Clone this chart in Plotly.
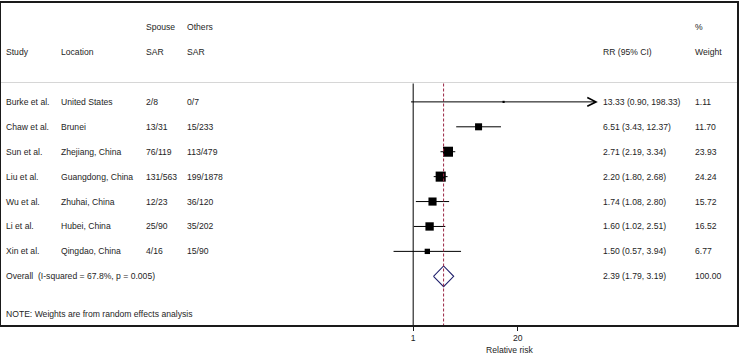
import math
import plotly.graph_objects as go

# ---------------- data ----------------
studies = ["Burke et al.", "Chaw et al.", "Sun et al.", "Liu et al.", "Wu et al.", "Li et al.", "Xin et al."]
locations = ["United States", "Brunei", "Zhejiang, China", "Guangdong, China", "Zhuhai, China", "Hubei, China", "Qingdao, China"]
spouse_sar = ["2/8", "13/31", "76/119", "131/563", "12/23", "25/90", "4/16"]
others_sar = ["0/7", "15/233", "113/479", "199/1878", "36/120", "35/202", "15/90"]
rr = [13.33, 6.51, 2.71, 2.20, 1.74, 1.60, 1.50]
rr_lo = [0.90, 3.43, 2.19, 1.80, 1.08, 1.02, 0.57]
rr_hi = [198.33, 12.37, 3.34, 2.68, 2.80, 2.51, 3.94]
weights = [1.11, 11.70, 23.93, 24.24, 15.72, 16.52, 6.77]

overall_rr = 2.39
overall_lo = 1.79
overall_hi = 3.19
overall_weight = 100.00
overall_label = "Overall\u00a0 (I-squared = 67.8%, p = 0.005)"
note = "NOTE: Weights are from random effects analysis"

tick_vals = [1, 20]
tick_text = ["1", "20"]
x_title = "Relative risk"

# ---------------- style ----------------
FONT = "Liberation Sans, Arial, sans-serif"
FS = 8.6
TXT = "#1e1e1e"
W, H = 740, 354
ML, MR, MT, MB = 1, 1, 1, 29
PW = W - ML - MR
PH = H - MT - MB

# x pixel = 414.3 + 35*ln(x) ; y pixel = 100.5 + 25.07*row
X0PX, XK = 414.3, 35.0
Y0PX, YK = 100.5, 25.07
xr = [(ML - X0PX) / XK / math.log(10), (W - MR - X0PX) / XK / math.log(10)]
yr = [(H - MB - Y0PX) / YK, (MT - Y0PX) / YK]


def px_to_paper(px):
    return (px - ML) / PW


def ypx_to_row(py):
    return (py - Y0PX) / YK


fig = go.Figure()

n = len(studies)
rows = list(range(n))
overall_row = n
note_row = n + 1.5
top_line_row = ypx_to_row(82)
bottom_row = yr[0]

# null line at 1
fig.add_trace(go.Scatter(x=[1, 1], y=[top_line_row, bottom_row], mode="lines",
                         line=dict(color="#000000", width=1), hoverinfo="skip"))

# CI lines
for i in rows:
    if rr_hi[i] > max(tick_vals):
        continue
    fig.add_trace(go.Scatter(x=[rr_lo[i], rr_hi[i]], y=[i, i], mode="lines",
                             line=dict(color="#000000", width=1), hoverinfo="skip"))

# arrows for truncated CIs
for i in rows:
    if rr_hi[i] > max(tick_vals):
        fig.add_annotation(x=math.log10(rr_hi[i]), y=i, xref="x", yref="y",
                           ax=math.log10(rr_lo[i]), ay=i, axref="x", ayref="y",
                           text="", showarrow=True, arrowhead=5, arrowsize=1.7,
                           arrowwidth=1, arrowcolor="#000000")

# squares
fig.add_trace(go.Scatter(x=rr, y=rows, mode="markers",
                         marker=dict(symbol="square", color="#000000", opacity=1,
                                     size=[2.05 * math.sqrt(w) for w in weights],
                                     line=dict(width=0)),
                         hoverinfo="skip"))

# diamond
h = 10.4 / YK
fig.add_trace(go.Scatter(x=[overall_lo, overall_rr, overall_hi, overall_rr, overall_lo],
                         y=[overall_row, overall_row - h, overall_row, overall_row + h, overall_row],
                         mode="lines", fill="toself", fillcolor="#ffffff",
                         line=dict(color="#1f1f6b", width=1.1), hoverinfo="skip"))

# overall dashed line
fig.add_trace(go.Scatter(x=[overall_rr, overall_rr], y=[top_line_row, bottom_row], mode="lines",
                         line=dict(color="#9b2545", width=1, dash="3px,2px"), hoverinfo="skip"))

# separator
fig.add_shape(type="line", xref="paper", yref="y", x0=0, x1=1,
              y0=ypx_to_row(81), y1=ypx_to_row(81),
              line=dict(color="#d6d6d6", width=1.2))


def txt(px, row, s):
    fig.add_annotation(x=px_to_paper(px), y=row, xref="paper", yref="y", text=s,
                       showarrow=False, xanchor="left", yanchor="middle", borderpad=0,
                       font=dict(family=FONT, size=FS, color=TXT))


col_x = [5, 60, 145, 187, 604, 696]
# headers
txt(col_x[2], -3, "Spouse")
txt(col_x[3], -3, "Others")
txt(col_x[5], -3, "%")
txt(col_x[0], -2, "Study")
txt(col_x[1], -2, "Location")
txt(col_x[2], -2, "SAR")
txt(col_x[3], -2, "SAR")
txt(col_x[4], -2, "RR (95% CI)")
txt(col_x[5], -2, "Weight")

for i in rows:
    txt(col_x[0], i, studies[i])
    txt(col_x[1], i, locations[i])
    txt(col_x[2], i, spouse_sar[i])
    txt(col_x[3], i, others_sar[i])
    txt(col_x[4], i, f"{rr[i]:.2f} ({rr_lo[i]:.2f}, {rr_hi[i]:.2f})")
    txt(col_x[5], i, f"{weights[i]:.2f}")

txt(col_x[0], overall_row, overall_label)
txt(col_x[4], overall_row, f"{overall_rr:.2f} ({overall_lo:.2f}, {overall_hi:.2f})")
txt(col_x[5], overall_row, f"{overall_weight:.2f}")
txt(col_x[0], note_row, note)

fig.add_annotation(x=px_to_paper(511), y=-(350.0 - (H - MB)) / PH, xref="paper", yref="paper",
                   text=x_title, showarrow=False, xanchor="center", yanchor="middle",
                   font=dict(family=FONT, size=FS, color=TXT))

fig.update_layout(
    width=W, height=H, margin=dict(l=ML, r=MR, t=MT, b=MB),
    paper_bgcolor="#ffffff", plot_bgcolor="#ffffff", showlegend=False,
    xaxis=dict(type="log", range=xr, showgrid=False, zeroline=False,
               showline=True, linecolor="#1a1a1a", linewidth=1.5, mirror=True,
               ticks="outside", ticklen=4, tickcolor="#1a1a1a", tickwidth=1,
               tickvals=tick_vals, ticktext=tick_text,
               tickfont=dict(family=FONT, size=FS, color=TXT), fixedrange=True),
    yaxis=dict(range=yr, showgrid=False, zeroline=False, showticklabels=False,
               showline=True, linecolor="#1a1a1a", linewidth=1.5, mirror=True,
               fixedrange=True),
)

fig.write_html("out.html", config={"displayModeBar": False},
               post_script="document.body.style.margin='0';document.body.style.overflow='hidden';")
